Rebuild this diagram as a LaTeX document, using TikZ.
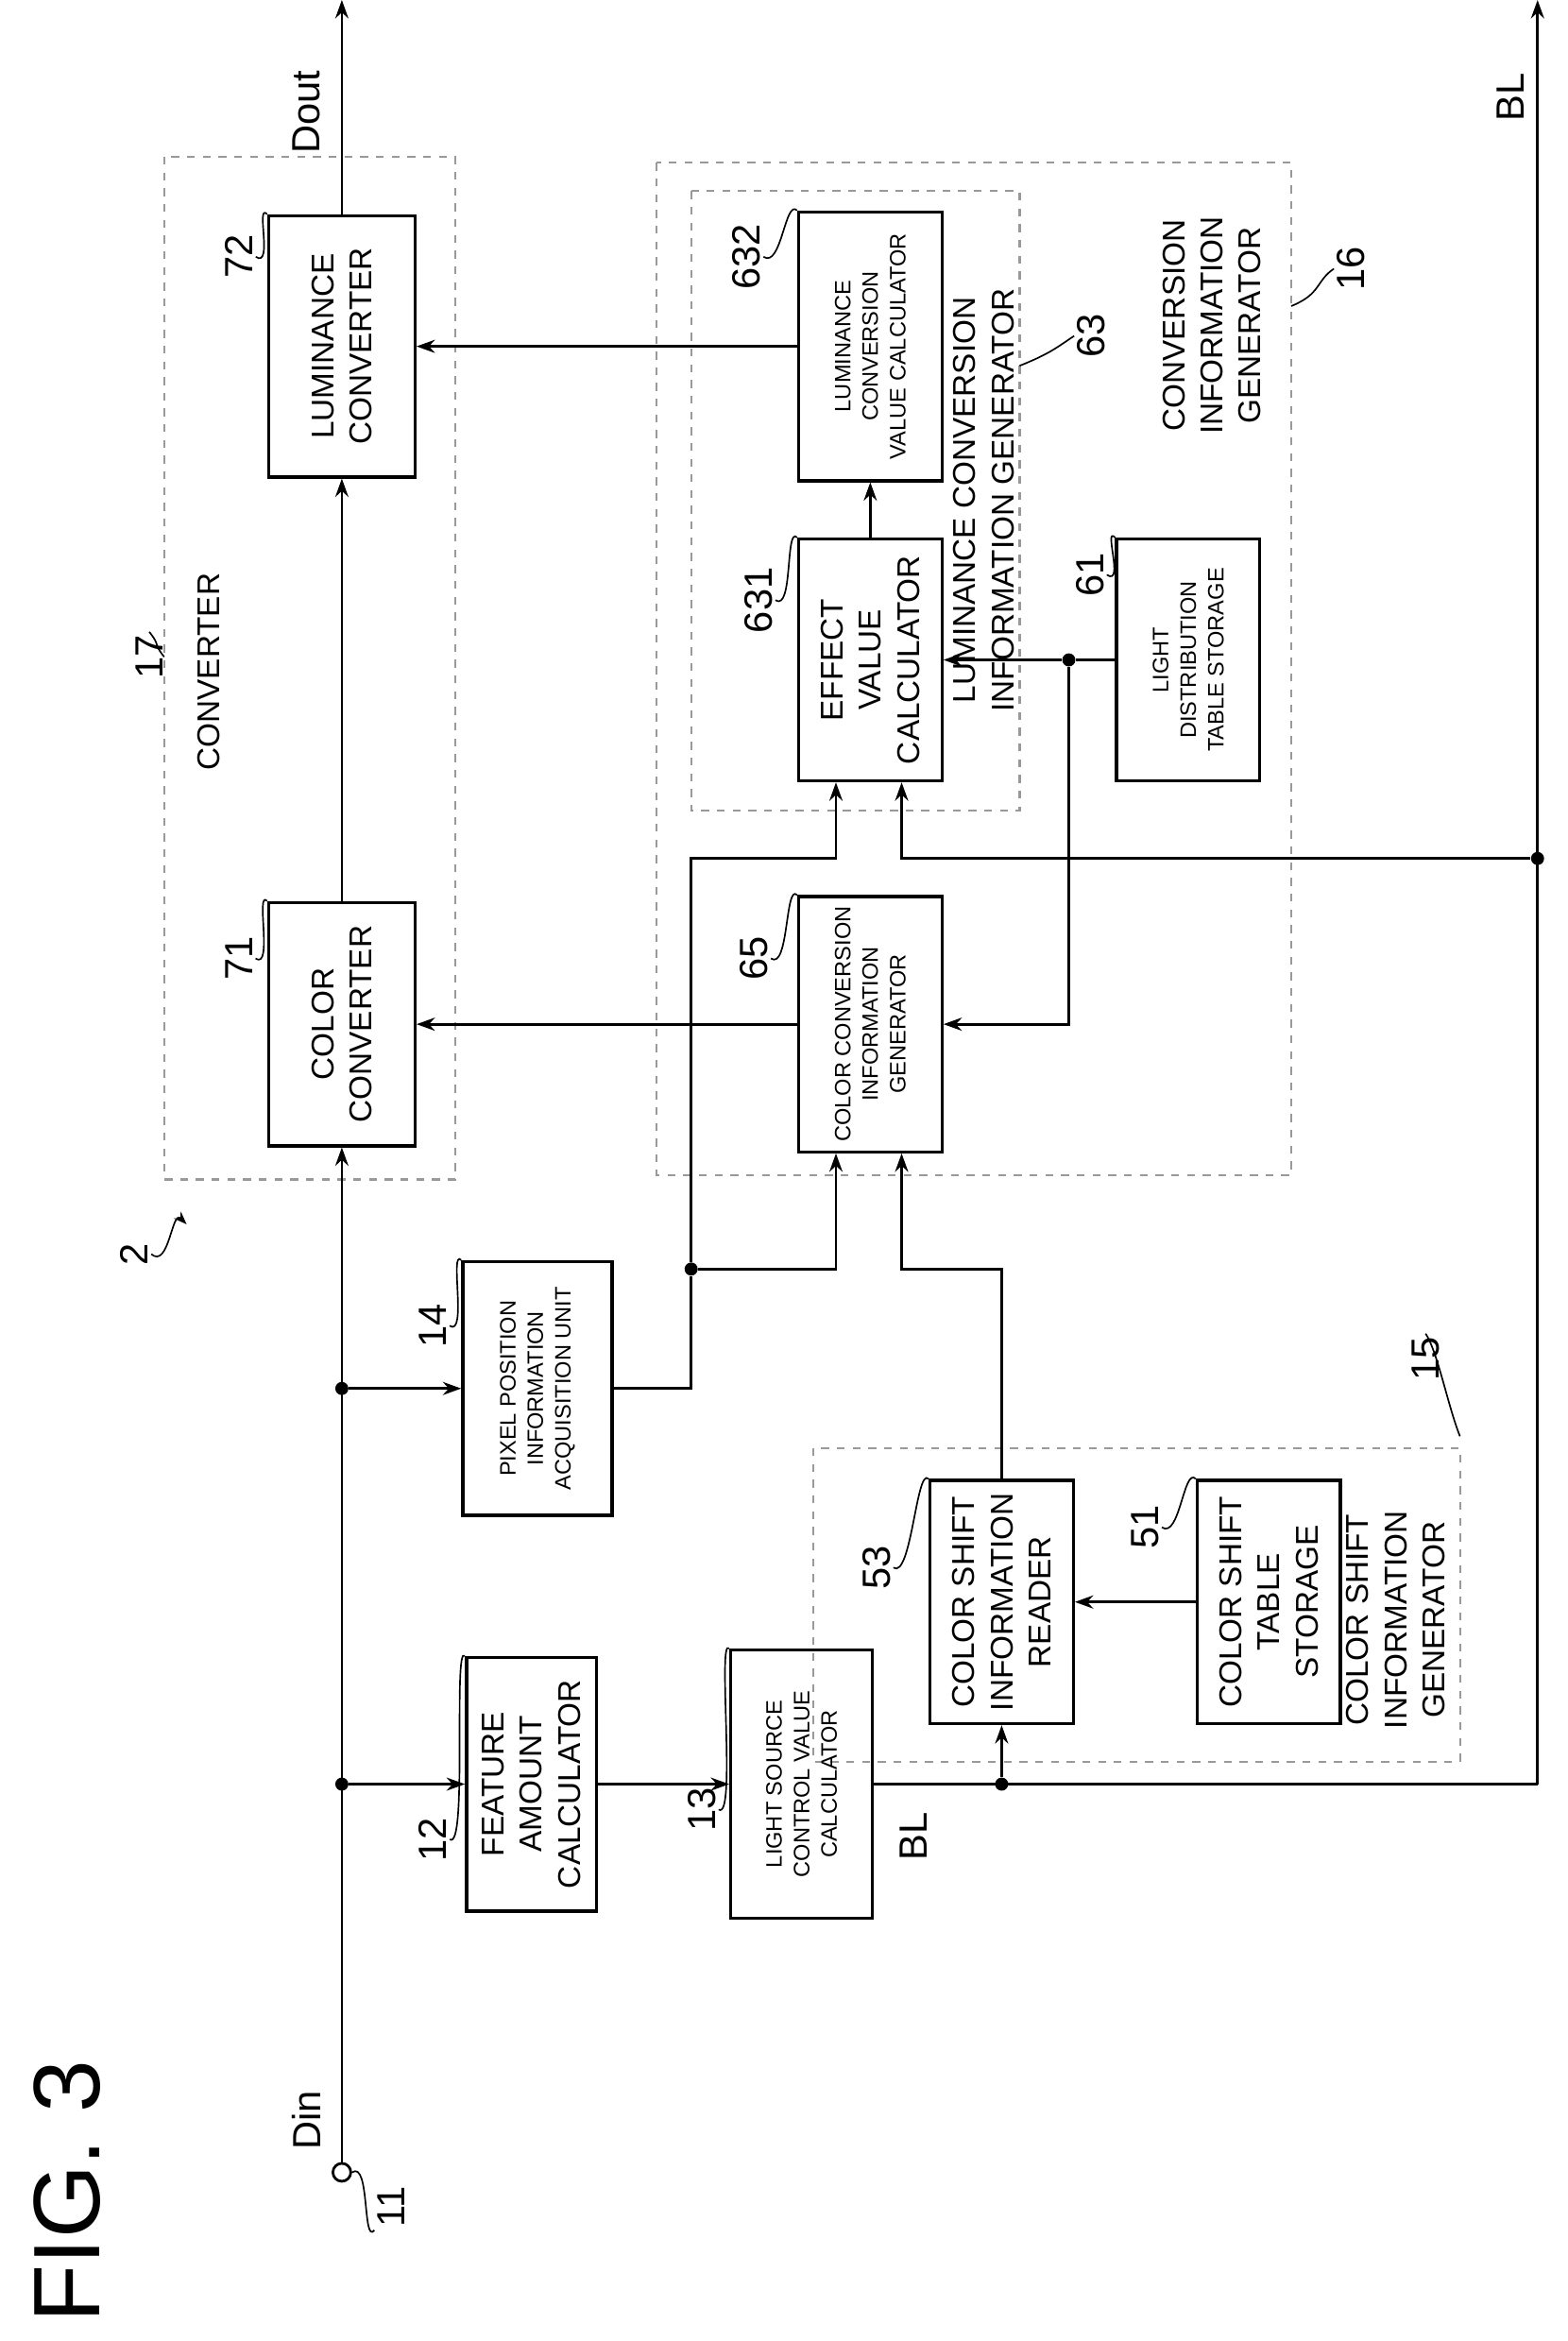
\documentclass[tikz,border=0pt]{standalone}
\usepackage{fontspec}
\setmainfont{Liberation Sans}
\usetikzlibrary{arrows.meta,positioning}
\newcommand\bxf{\fontsize{12}{14.5}\selectfont}
\newcommand\smf{\fontsize{8.5}{10.5}\selectfont}
\newcommand\numf{\fontsize{15}{17}\selectfont}
\begin{document}
\begin{tikzpicture}[x=0.02cm, y=-0.02cm,
    blk/.style 2 args={draw, line width=1.2pt, rotate=90, align=center, inner sep=1pt, font=\bxf, minimum width=#1cm, minimum height=#2cm},
    grp/.style={draw=gray!80, dashed, line width=0.8pt},
    arr/.style={-{Stealth[length=7pt,width=5pt]}, line width=1pt},
    wire/.style={line width=1pt},
    dot/.style={circle, fill, inner sep=0pt, minimum size=5pt},
    num/.style={rotate=90, font=\numf, inner sep=1pt},
    lbl/.style={rotate=90, font=\bxf, align=center, inner sep=1pt},
    lead/.style={line width=0.6pt}
]
\useasboundingbox (0,0) rectangle (1050,1568);

% dashed groups
\draw[grp] (110,105) rectangle (305,790);
\draw[grp] (440,109) rectangle (865,787);
\draw[grp] (463,128) rectangle (683,543);
\draw[grp] (545,970) rectangle (978,1180);

% blocks
\node[blk={3.26}{1.96}] (cc) at (229,686) {COLOR\\CONVERTER};
\node[blk={3.5}{1.96}] (lc) at (229,232) {LUMINANCE\\CONVERTER};
\node[blk={3.4}{1.74}] (feat) at (356,1195) {FEATURE\\AMOUNT\\CALCULATOR};
\node[blk={3.6}{1.9}, font=\smf] (lsrc) at (537,1195) {LIGHT SOURCE\\CONTROL VALUE\\CALCULATOR};
\node[blk={3.4}{2.0}, font=\smf] (pix) at (360,930) {PIXEL POSITION\\INFORMATION\\ACQUISITION UNIT};
\node[blk={3.26}{1.92}] (reader) at (671,1073) {COLOR SHIFT\\INFORMATION\\READER};
\node[blk={3.26}{1.92}] (cstab) at (850,1073) {COLOR SHIFT\\TABLE\\STORAGE};
\node[blk={3.42}{1.92}, font=\smf] (ccig) at (583,686) {COLOR CONVERSION\\INFORMATION\\GENERATOR};
\node[blk={3.24}{1.92}] (eff) at (583,442) {EFFECT\\VALUE\\CALCULATOR};
\node[blk={3.6}{1.92}, font=\smf] (lcv) at (583,232) {LUMINANCE\\CONVERSION\\VALUE CALCULATOR};
\node[blk={3.24}{1.92}, font=\smf] (ldist) at (796,442) {LIGHT\\DISTRIBUTION\\TABLE STORAGE};

% terminals and junctions
\node[circle, draw, line width=1pt, minimum size=0.24cm, inner sep=0pt] (din) at (229,1455) {};
\coordinate (dout) at (229,0);
\coordinate (blout) at (1030,0);
\node[dot] (j1) at (229,1195) {};
\node[dot] (j2) at (229,930) {};
\node[dot] (j3) at (671,1195) {};
\coordinate (j4) at (1030,1195);
\node[dot] (j5) at (1030,575) {};
\node[dot] (j6) at (463,850) {};
\node[dot] (j7) at (716,442) {};
\coordinate (ccin1) at (560,850);
\coordinate (ccin2) at (604,850);
\coordinate (efin1) at (560,575);
\coordinate (efin2) at (604,575);

% connectors
\draw[arr] (din.north) -- (cc.west);
\draw[arr] (j1) -- (feat.north);
\draw[arr] (j2) -- (pix.north);
\draw[arr] (feat.south) -- (lsrc.north);
\draw[arr] (cc.east) -- (lc.west);
\draw[arr] (lc.east) -- (dout);
\draw[wire] (lsrc.south) -- (j4);
\draw[arr] (j4) -- (blout);
\draw[arr] (j3) -- (reader.west);
\draw[arr] (cstab.north) -- (reader.south);
\draw[arr] (reader.east) |- (ccin2) -- (ccin2 |- ccig.west);
\draw[wire] (pix.south) -| (j6);
\draw[arr] (j6) -- (ccin1) -- (ccin1 |- ccig.west);
\draw[arr] (j6) |- (efin1) -- (efin1 |- eff.west);
\draw[arr] (j5) -- (efin2) -- (efin2 |- eff.west);
\draw[arr] (ccig.north) -- (cc.south);
\draw[arr] (eff.east) -- (lcv.west);
\draw[arr] (lcv.north) -- (lc.south);
\draw[wire] (ldist.north) -- (j7);
\draw[arr] (j7) -- (eff.south);
\draw[arr] (j7) |- (ccig.south);

% signal labels
\node[lbl, font=\numf] at (205,1420) {Din};
\node[lbl, font=\numf] at (205,75) {Dout};
\node[lbl, font=\numf] at (1012,65) {BL};
\node[lbl, font=\numf] at (612,1230) {BL};
\node[lbl] at (140,450) {CONVERTER};
\node[lbl] at (812,218) {CONVERSION\\INFORMATION\\GENERATOR};
\node[lbl] at (659,335) {LUMINANCE CONVERSION\\INFORMATION GENERATOR};
\node[lbl] at (935,1085) {COLOR SHIFT\\INFORMATION\\GENERATOR};
\node[rotate=90, font=\fontsize{36}{40}\selectfont] at (45,1468) {FIG. 3};

% reference numerals
\node[num] (n11) at (262,1478) {11};
\node[num] (n71) at (160,642) {71};
\node[num] (n72) at (160,172) {72};
\node[num] (n12) at (290,1232) {12};
\node[num] (n13) at (470,1212) {13};
\node[num] (n14) at (290,888) {14};
\node[num] (n53) at (587,1050) {53};
\node[num] (n51) at (767,1023) {51};
\node[num] (n65) at (505,642) {65};
\node[num] (n631) at (508,402) {631};
\node[num] (n632) at (500,172) {632};
\node[num] (n61) at (730,385) {61};
\node[num] (n63) at (731,225) {63};
\node[num] (n16) at (905,180) {16};
\node[num] (n15) at (955,910) {15};
\node[num] (n17) at (100,440) {17};
\node[num] (n2) at (90,840) {2};

% leaders
\draw[lead] (din.east) .. controls +(12,-8) and +(-8,10) .. (n11.north west);
\draw[lead] (n71.south) .. controls +(12,8) and +(-8,-8) .. (cc.north east);
\draw[lead] (n72.south) .. controls +(12,8) and +(-8,-8) .. (lc.north east);
\draw[lead] (n12.south) .. controls +(12,8) and +(-8,-8) .. (feat.north east);
\draw[lead] (n13.south) .. controls +(12,8) and +(-8,-8) .. (lsrc.north east);
\draw[lead] (n14.south) .. controls +(12,8) and +(-8,-8) .. (pix.north east);
\draw[lead] (n53.south) .. controls +(12,8) and +(-8,-8) .. (reader.north east);
\draw[lead] (n51.south) .. controls +(12,8) and +(-8,-8) .. (cstab.north east);
\draw[lead] (n65.south) .. controls +(12,8) and +(-8,-8) .. (ccig.north east);
\draw[lead] (n631.south) .. controls +(12,8) and +(-8,-8) .. (eff.north east);
\draw[lead] (n632.south) .. controls +(12,8) and +(-8,-8) .. (lcv.north east);
\draw[lead] (n61.south) .. controls +(12,8) and +(-8,-8) .. (ldist.north east);
\draw[lead] (683,245) .. controls +(20,-8) and +(-12,8) .. (n63.north);
\draw[lead] (865,205) .. controls +(20,-8) and +(-12,8) .. (n16.north);
\draw[lead] (978,962) .. controls +(-8,-20) and +(8,12) .. (n15.east);
\draw[lead] (n17.east) .. controls +(8,10) and +(-8,-10) .. (110,440);
\draw[lead,-{Stealth[length=5pt]}] (n2.south) .. controls +(12,10) and +(-10,-10) .. (125,820);
\end{tikzpicture}
\end{document}
